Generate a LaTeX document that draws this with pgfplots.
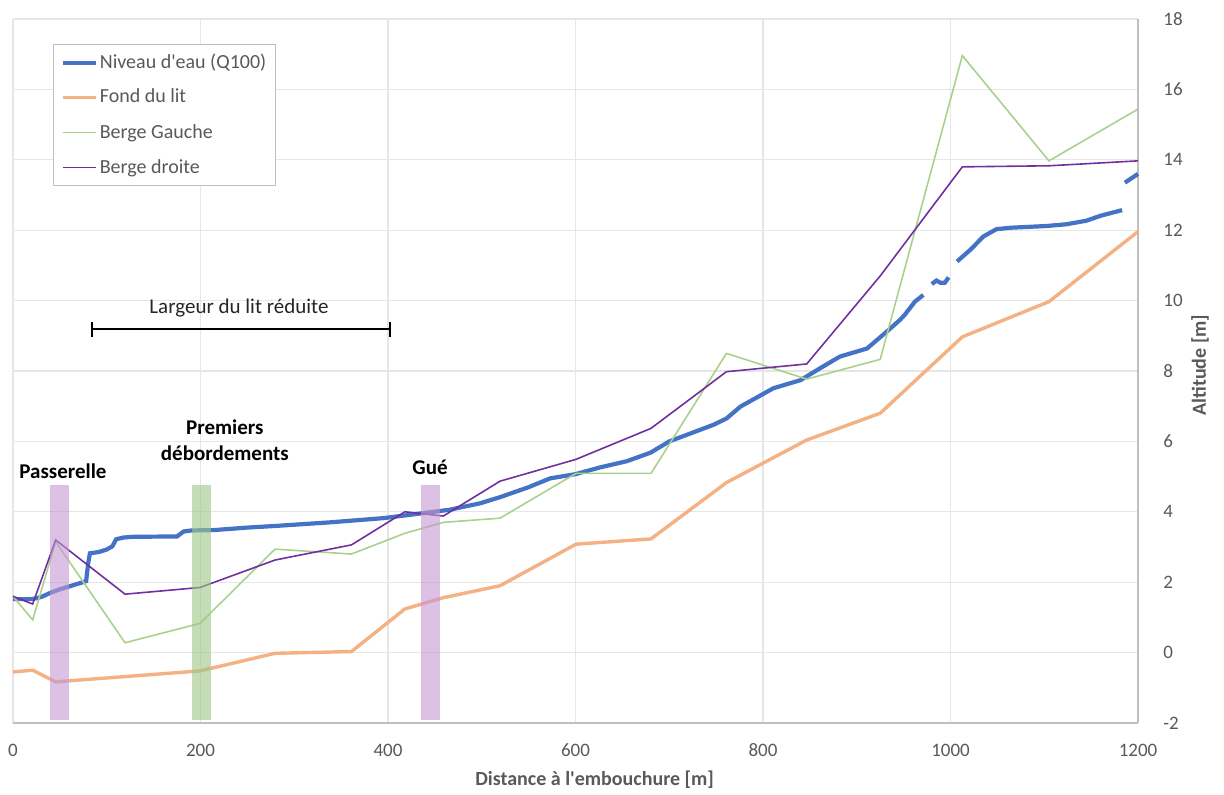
\documentclass[border=0pt]{standalone}
\usepackage{pgfplots}
\pgfplotsset{compat=1.18}
\usepackage{fontspec}
\setmainfont{Carlito}
\definecolor{cblue}{HTML}{4472C4}
\definecolor{corange}{HTML}{F4B183}
\definecolor{cgreen}{HTML}{A9D18E}
\definecolor{cpurple}{HTML}{7030A0}
\definecolor{tickgray}{HTML}{595959}
\definecolor{gridgray}{HTML}{E6E6E6}
\definecolor{axisgray}{HTML}{BFBFBF}
\definecolor{barpurple}{HTML}{C597D2}
\definecolor{bargreen}{HTML}{9CC787}

\pgfplotstableread{
x y
0 1.52
20 1.52
26 1.55
31 1.59
40 1.70
50 1.80
60 1.88
71 1.97
78 2.03
80 2.50
82 2.82
92 2.86
100 2.93
106 3.02
110 3.22
118 3.27
128 3.29
175 3.30
182 3.44
190 3.47
214 3.48
249 3.55
281 3.60
338 3.70
395 3.82
431 3.94
466 4.06
498 4.24
520 4.42
550 4.70
573 4.95
600 5.07
626 5.26
655 5.44
680 5.68
700 6.00
720 6.20
747 6.47
761 6.65
776 6.99
811 7.51
840 7.74
861 8.08
882 8.41
911 8.64
932 9.12
946 9.45
951 9.59
962 9.97
971 10.16
975 nan
980 10.47
985 10.57
989 10.51
994 10.51
998 10.66
1002 nan
1007 11.11
1012 11.23
1021 11.44
1035 11.82
1049 12.03
1064 12.07
1103 12.12
1124 12.17
1145 12.27
1160 12.41
1183 12.57
1185 nan
1186 13.35
1200 13.60
}\water

\pgfplotstableread{
x y
0 -0.55
21 -0.50
45.5 -0.83
199.5 -0.52
279.5 -0.02
361 0.03
418 1.24
459 1.56
519.5 1.90
600.5 3.08
680.5 3.23
761 4.83
846.6 6.04
925 6.80
1012.6 8.97
1105 9.97
1200 11.96
}\fond

\pgfplotstableread{
x y
0 1.60
21 0.93
45.5 3.15
119.5 0.28
199.5 0.83
279.5 2.94
361 2.80
418 3.39
459 3.70
519.5 3.82
600.5 5.09
680.5 5.09
761 8.50
846.6 7.77
925 8.33
1012.6 16.96
1105 13.97
1200 15.44
}\gauche

\pgfplotstableread{
x y
0 1.60
21 1.38
45.5 3.20
119.5 1.66
199.5 1.85
279.5 2.63
361 3.06
418 4.00
459 3.88
519.5 4.87
600.5 5.49
680.5 6.37
761 7.98
846.6 8.20
925 10.70
1012.6 13.80
1105 13.83
1200 13.97
}\droite

\begin{document}
\begin{tikzpicture}
\useasboundingbox (-6.5pt,-35.5pt) rectangle (605.5pt,361.5pt);
\begin{axis}[
  at={(0,0)}, anchor=south west,
  scale only axis, width=562.5pt, height=352pt,
  xmin=0, xmax=1200, ymin=-2, ymax=18,
  xtick={0,200,...,1200}, ytick={-2,0,...,18},
  grid=major, major grid style={gridgray, line width=0.6pt},
  axis x line*=bottom, axis y line*=right,
  axis line style={axisgray, line width=0.8pt},
  tick style={draw=none},
  clip=false,
  ticklabel style={font=\fontsize{9.5}{11}\selectfont, text=tickgray, inner sep=0pt},
  xticklabel style={anchor=center, yshift=-13.5pt},
  yticklabel style={anchor=west, xshift=12.5pt},
  /pgf/number format/assume math mode=true,
  /pgf/number format/1000 sep={},
  unbounded coords=jump,
  legend style={at={(rel axis cs:0.0356,0.9645)}, anchor=north west,
    draw=axisgray, fill=white, line width=0.6pt,
    font=\fontsize{10}{12}\selectfont, text=tickgray,
    inner xsep=3.5pt, inner ysep=3.5pt, row sep=6.5pt,
    nodes={inner sep=1pt, text height=7.2pt, text depth=1.8pt, anchor=west}},
  legend cell align=left,
  legend image code/.code={\draw[#1] (0pt,0pt) -- (16.5pt,0pt);},
]
\addplot[cblue, line width=2.1pt] table {\water};
\addlegendentry{Niveau d\textquotesingle eau (Q100)}
\addplot[corange, line width=1.7pt] table {\fond};
\addlegendentry{Fond du lit}
\addplot[cgreen, line width=0.8pt] table {\gauche};
\addlegendentry{Berge Gauche}
\addplot[cpurple, line width=0.8pt] table {\droite};
\addlegendentry{Berge droite}

% highlight bars
\addplot[draw=none, fill=barpurple, fill opacity=0.6, forget plot]
  coordinates {(39.5,-1.92) (59.7,-1.92) (59.7,4.75) (39.5,4.75)} -- cycle;
\addplot[draw=none, fill=bargreen, fill opacity=0.6, forget plot]
  coordinates {(191,-1.92) (211,-1.92) (211,4.75) (191,4.75)} -- cycle;
\addplot[draw=none, fill=barpurple, fill opacity=0.6, forget plot]
  coordinates {(435,-1.92) (455.5,-1.92) (455.5,4.75) (435,4.75)} -- cycle;

% Largeur du lit bracket
\addplot[black, line width=1pt, forget plot] coordinates {(84.3,9.19) (402,9.19)};
\addplot[black, line width=1pt, forget plot] coordinates {(84.3,8.98) (84.3,9.40)};
\addplot[black, line width=1pt, forget plot] coordinates {(402,8.98) (402,9.40)};

\node[font=\fontsize{10.5}{12}\selectfont, text=black!85] at (axis cs:241,9.79) {Largeur du lit réduite};
\node[font=\bfseries\fontsize{10.5}{12}\selectfont] at (axis cs:53.3,5.16) {Passerelle};
\node[font=\bfseries\fontsize{10.5}{13}\selectfont, align=center] at (axis cs:226,6.04) {Premiers\\débordements};
\node[font=\bfseries\fontsize{10.5}{12}\selectfont] at (axis cs:444.8,5.27) {Gué};

\node[font=\bfseries\fontsize{10}{12}\selectfont, text=tickgray] at ([yshift=-28.5pt]rel axis cs:0.517,0) {Distance à l\textquotesingle embouchure [m]};
\node[font=\bfseries\fontsize{10}{12}\selectfont, text=tickgray, rotate=90] at ([xshift=31pt]rel axis cs:1,0.5085) {Altitude [m]};
\end{axis}
\end{tikzpicture}
\end{document}
